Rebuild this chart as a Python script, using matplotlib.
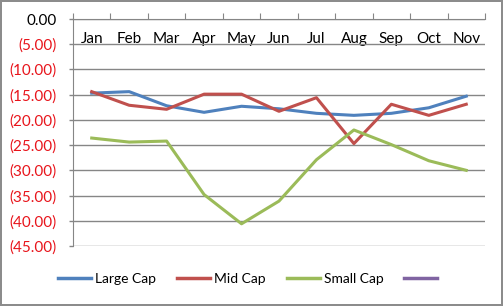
import numpy as np
import matplotlib.pyplot as plt
from matplotlib.lines import Line2D

plt.rcParams['font.family'] = ['Lato', 'DejaVu Sans']

months = ["Jan", "Feb", "Mar", "Apr", "May", "Jun", "Jul", "Aug", "Sep", "Oct", "Nov"]
large_cap = [-14.7, -14.4, -17.2, -18.5, -17.3, -17.8, -18.7, -19.1, -18.7, -17.6, -15.3]
mid_cap = [-14.4, -17.1, -17.9, -14.9, -14.9, -18.3, -15.6, -24.7, -16.9, -19.1, -16.9]
small_cap = [-23.6, -24.4, -24.2, -34.8, -40.6, -36.1, -27.9, -22.0, -24.9, -28.1, -30.0]
series_names = ["Large Cap", "Mid Cap", "Small Cap", " "]
colors = ["#4F81BD", "#C0504D", "#9BBB59", "#8064A2"]
yticks = np.arange(0, -50, -5)

fig = plt.figure(figsize=(5.03, 3.06), dpi=100)
fig.patch.set_edgecolor("#8c8c8c")
fig.patch.set_linewidth(1.5)
ax = fig.add_axes([0.1451, 0.1961, 0.8191, 0.7418])

x = np.arange(len(months)) + 0.5
for vals, c in zip([large_cap, mid_cap, small_cap], colors):
    ax.plot(x, vals, color=c, lw=2.2, solid_joinstyle="round")

ax.set_xlim(0, len(months))
ax.set_ylim(-45, 0)
ax.set_yticks(yticks)
ax.set_yticklabels(["0.00" if v == 0 else "(%.2f)" % abs(v) for v in yticks])
for lab, v in zip(ax.get_yticklabels(), yticks):
    lab.set_color("black" if v == 0 else "#E8141B")
ax.tick_params(axis="y", length=3, width=1, color="#868686", pad=8.5, labelsize=11)
ax.grid(axis="y", color="#868686", lw=1)
ax.set_axisbelow(True)

# category axis sits at zero (top of plot), labels below it
ax.xaxis.set_ticks_position("top")
ax.set_xticks(np.arange(len(months) + 1))
ax.set_xticklabels([])
ax.tick_params(axis="x", which="major", direction="out", length=4, color="#868686")
ax.set_xticks(x, minor=True)
ax.set_xticklabels(months, minor=True)
ax.tick_params(axis="x", which="minor", length=0, pad=-19.5, labelsize=11, labeltop=True, labelbottom=False)

for s in ["right", "bottom"]:
    ax.spines[s].set_visible(False)
for s in ["top", "left"]:
    ax.spines[s].set_color("#868686")

handles = [Line2D([], [], color=c, lw=2.5) for c in colors]
fig.legend(handles, series_names, loc="center", bbox_to_anchor=(0.5, 0.088), ncol=4,
           frameon=False, fontsize=10, handlelength=2.37, handletextpad=0.29, columnspacing=1.5)

fig.savefig("out.png", dpi=100, edgecolor=fig.get_edgecolor())
